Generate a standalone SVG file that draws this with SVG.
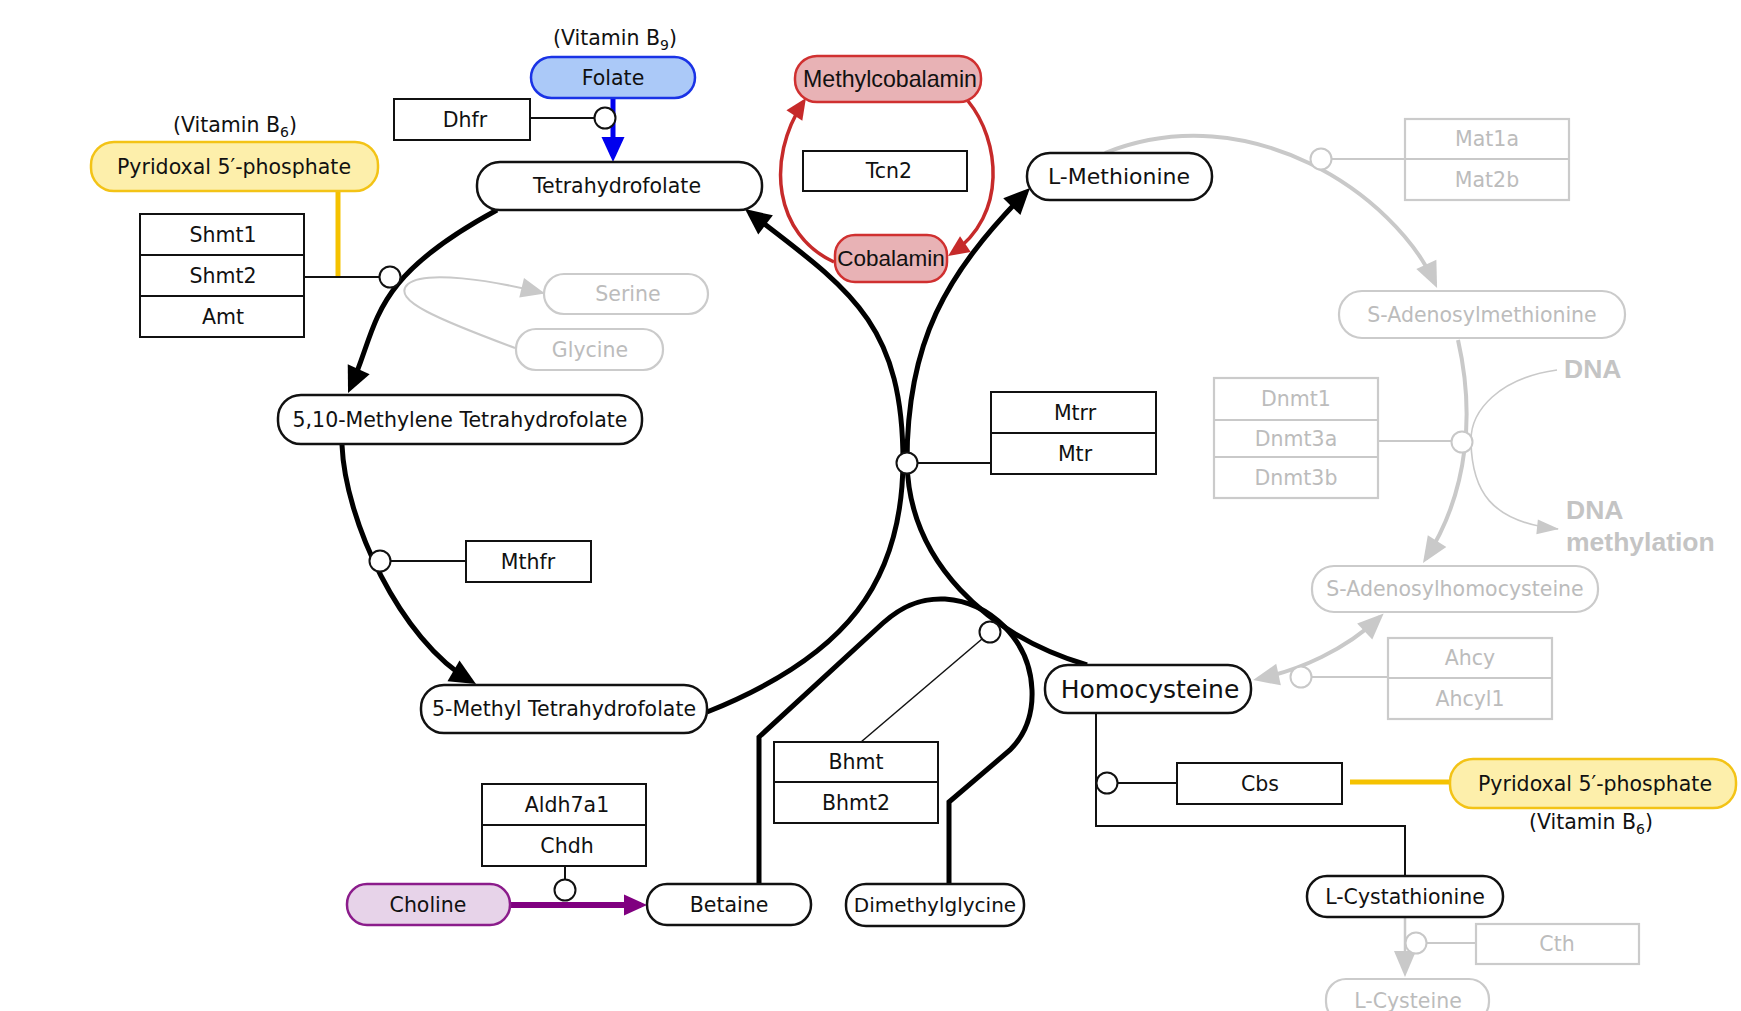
<svg xmlns="http://www.w3.org/2000/svg" width="1741" height="1011" viewBox="0 0 1741 1011">
<style>
.pill{fill:#fff;stroke:#111;stroke-width:2.5}
.box{fill:#fff;stroke:#111;stroke-width:2}
.gpill{fill:#fff;stroke:#cbcbcb;stroke-width:2.2}
.gbox{fill:#fff;stroke:#cbcbcb;stroke-width:2.2}
.t{font-family:"DejaVu Sans",Verdana,sans-serif;font-size:20.5px;fill:#111;text-anchor:middle;dominant-baseline:central}
.ta{font-family:"Liberation Sans",Arial,sans-serif;font-size:22.5px;fill:#111;text-anchor:middle;dominant-baseline:central}
.tv{font-family:"DejaVu Sans",Verdana,sans-serif;font-size:20.5px;fill:#111;text-anchor:middle}
.gt{fill:#bcbcbc}
.dna{font-family:"Liberation Sans",Arial,sans-serif;font-size:26.5px;font-weight:bold;fill:#c4c4c4}
.circ{fill:#fff;stroke:#111;stroke-width:2}
.gcirc{fill:#fff;stroke:#c8c8c8;stroke-width:2}
.arc{fill:none;stroke:#000;stroke-width:5}
.garc{fill:none;stroke:#c9c9c9;stroke-width:4}
.thin{fill:none;stroke:#111;stroke-width:2}
.gthin{fill:none;stroke:#c9c9c9;stroke-width:2}
.red{fill:none;stroke:#c62a2a;stroke-width:3.5}
</style>
<defs>
<marker id="ab" markerUnits="userSpaceOnUse" markerWidth="26" markerHeight="24" refX="20" refY="12" orient="auto" overflow="visible"><path d="M0,0 L26,12 L0,24 z" fill="#000"/></marker>
<marker id="abl" markerUnits="userSpaceOnUse" markerWidth="25" markerHeight="23" refX="19" refY="11.5" orient="auto" overflow="visible"><path d="M0,0 L25,11.5 L0,23 z" fill="#0000ee"/></marker>
<marker id="ar" markerUnits="userSpaceOnUse" markerWidth="21" markerHeight="19" refX="16" refY="9.5" orient="auto" overflow="visible"><path d="M0,0 L21,9.5 L0,19 z" fill="#c62a2a"/></marker>
<marker id="ap" markerUnits="userSpaceOnUse" markerWidth="23" markerHeight="21" refX="17" refY="10.5" orient="auto" overflow="visible"><path d="M0,0 L23,10.5 L0,21 z" fill="#800080"/></marker>
<marker id="ag" markerUnits="userSpaceOnUse" markerWidth="26" markerHeight="22" refX="21" refY="11" orient="auto-start-reverse" overflow="visible"><path d="M0,0 L26,11 L0,22 z" fill="#c9c9c9"/></marker>
<marker id="ags" markerUnits="userSpaceOnUse" markerWidth="24" markerHeight="20" refX="22" refY="10" orient="auto" overflow="visible"><path d="M0,0 L24,10 L0,20 z" fill="#c9c9c9"/></marker>
<marker id="agt" markerUnits="userSpaceOnUse" markerWidth="22" markerHeight="15" refX="21" refY="7.5" orient="auto" overflow="visible"><path d="M0,0 L22,7.5 L0,15 z" fill="#c9c9c9"/></marker>
</defs>

<g id="connectors">
  <!-- grey pathways -->
  <path class="garc" d="M1105,153 C1250,95 1395,195 1435,283.5" marker-end="url(#ag)"/>
  <path class="garc" d="M1458,340 C1474,410 1470,490 1425.7,558.8" marker-end="url(#ag)"/>
  <path class="garc" d="M1258,679 C1300,670 1345,650 1380,617" marker-start="url(#ag)" marker-end="url(#ag)"/>
  <path class="gthin" d="M515,348 C440,320 390,300 408,284 C425,270 490,280 543,293" marker-end="url(#ags)"/>
  <path class="gthin" style="stroke-width:1.6" d="M1557,370 C1500,378 1470,410 1471,442 C1472,490 1490,522 1558,529" marker-end="url(#agt)"/>
  <path class="gthin" style="stroke-width:2.5" d="M1405,917 V972" marker-end="url(#ag)"/>
  <line class="gthin" x1="1331.5" y1="159" x2="1405" y2="159"/>
  <line class="gthin" x1="1378" y1="441" x2="1452" y2="441"/>
  <line class="gthin" x1="1312" y1="677" x2="1388" y2="677"/>
  <line class="gthin" x1="1427" y1="943" x2="1476" y2="943"/>

  <!-- black main cycles -->
  <path class="arc" d="M497,210 C367.5,280 379.5,323 350.5,387.5" marker-end="url(#ab)"/>
  <path class="arc" d="M342,445 C345,520 400,640 470.8,681" marker-end="url(#ab)"/>
  <path class="arc" d="M707,712 C847,656 902,582 903,462 C903,322 849,289 749.7,212.7" marker-end="url(#ab)"/>
  <path class="arc" d="M1087,665 C987,635 909,562 907,462 C907,342 945,275 1025.8,192.3" marker-end="url(#ab)"/>
  <path class="arc" d="M759,885 V737 L883,623 C905,603 925,598 945,599 C990,602 1030,640 1032,690 C1033,715 1025,735 1010,750 L949,802 V885" stroke-linejoin="miter"/>

  <!-- red cobalamin cycle -->
  <path class="red" d="M834,262 C775,235 765,160 803.2,102.2" marker-end="url(#ar)"/>
  <path class="red" d="M968,101 C1000,140 1008,215 952.2,253.2" marker-end="url(#ar)"/>

  <!-- coloured -->
  <line x1="613" y1="98" x2="613" y2="156" stroke="#0000ee" stroke-width="5" marker-end="url(#abl)"/>
  <line x1="510" y1="905" x2="641" y2="905" stroke="#800080" stroke-width="6" marker-end="url(#ap)"/>
  <line x1="338" y1="191" x2="338" y2="277" stroke="#f5c200" stroke-width="5"/>
  <line x1="1350" y1="782" x2="1450" y2="782" stroke="#f5c200" stroke-width="5"/>

  <!-- enzyme links -->
  <line class="thin" x1="530" y1="118" x2="594.5" y2="118"/>
  <line class="thin" x1="304" y1="277" x2="379.5" y2="277"/>
  <line class="thin" x1="390.5" y1="561" x2="466" y2="561"/>
  <line class="thin" x1="917.5" y1="463" x2="991" y2="463"/>
  <line class="thin" style="stroke-width:1.5" x1="861" y1="742" x2="982" y2="639"/>
  <line class="thin" x1="565" y1="866" x2="565" y2="879.5"/>
  <line class="thin" x1="1117.5" y1="783" x2="1177" y2="783"/>
  <path class="thin" d="M1096,713 V826 H1405 V876"/>
</g>

<g id="n-vitb9"><text class="tv" x="615" y="45">(Vitamin B<tspan style="font-size:14px" dy="5">9</tspan><tspan dy="-5">)</tspan></text></g>
<g id="n-folate"><rect x="531" y="57" width="164" height="41" rx="20.5" fill="#abc9f8" stroke="#1a33e6" stroke-width="2.5"/><text class="t" x="613" y="77.5">Folate</text></g>
<g id="n-dhfr"><rect class="box" x="394" y="99" width="136" height="41"/><text class="t" x="465" y="119.5">Dhfr</text></g>
<g id="n-thf"><rect class="pill" x="477" y="162" width="285" height="48" rx="23"/><text class="t" x="617" y="186">Tetrahydrofolate</text></g>
<g id="n-vitb6a"><text class="tv" x="235" y="132">(Vitamin B<tspan style="font-size:14px" dy="5">6</tspan><tspan dy="-5">)</tspan></text></g>
<g id="n-plp1"><rect x="91" y="142" width="287" height="49" rx="23" fill="#fdefab" stroke="#f3c316" stroke-width="2.5"/><text class="t" x="234" y="166.5">Pyridoxal 5′-phosphate</text></g>
<g id="n-shmt"><rect class="box" x="140" y="214" width="164" height="123"/><line class="thin" x1="140" y1="255" x2="304" y2="255"/><line class="thin" x1="140" y1="296" x2="304" y2="296"/>
<text class="t" x="223" y="234.5">Shmt1</text><text class="t" x="223" y="275.5">Shmt2</text><text class="t" x="223" y="316.5">Amt</text></g>
<g id="n-serine"><rect class="gpill" x="544" y="274" width="164" height="40" rx="20"/><text class="t gt" x="628" y="294">Serine</text></g>
<g id="n-glycine"><rect class="gpill" x="516" y="329" width="147" height="41" rx="20"/><text class="t gt" x="590" y="349.5">Glycine</text></g>
<g id="n-mthf510"><rect class="pill" x="278" y="395" width="364" height="49" rx="23"/><text class="t" x="460" y="419.5">5,10-Methylene Tetrahydrofolate</text></g>
<g id="n-mthfr"><rect class="box" x="466" y="541" width="125" height="41"/><text class="t" x="528" y="561.5">Mthfr</text></g>
<g id="n-mthf5"><rect class="pill" x="421" y="685" width="286" height="48" rx="23"/><text class="t" x="564" y="709">5-Methyl Tetrahydrofolate</text></g>
<g id="n-mecbl"><rect x="795" y="56" width="186" height="46" rx="22" fill="#e8b2b5" stroke="#d03030" stroke-width="2.5"/><text class="ta" x="890" y="79" style="font-size:23.2px">Methylcobalamin</text></g>
<g id="n-tcn2"><rect class="box" x="803" y="151" width="164" height="40"/><text class="t" x="889" y="171">Tcn2</text></g>
<g id="n-cbl"><rect x="835" y="235" width="112" height="47" rx="20" fill="#e8b2b5" stroke="#d03030" stroke-width="2.5"/><text class="ta" x="891" y="258.5">Cobalamin</text></g>
<g id="n-mtr"><rect class="box" x="991" y="392" width="165" height="82"/><line class="thin" x1="991" y1="433" x2="1156" y2="433"/><text class="t" x="1075" y="412.5">Mtrr</text><text class="t" x="1075" y="453.5">Mtr</text></g>
<g id="n-lmet"><rect class="pill" x="1027" y="153" width="185" height="47" rx="23"/><text class="t" x="1119" y="176.5" style="font-size:22px">L-Methionine</text></g>
<g id="n-mat"><rect class="gbox" x="1405" y="119" width="164" height="81"/><line class="gthin" x1="1405" y1="159" x2="1569" y2="159"/><text class="t gt" x="1487" y="139">Mat1a</text><text class="t gt" x="1487" y="179.5">Mat2b</text></g>
<g id="n-sam"><rect class="gpill" x="1339" y="291" width="286" height="47" rx="23"/><text class="t gt" x="1482" y="314.5">S-Adenosylmethionine</text></g>
<g id="n-dnmt"><rect class="gbox" x="1214" y="378" width="164" height="120"/><line class="gthin" x1="1214" y1="420" x2="1378" y2="420"/><line class="gthin" x1="1214" y1="457" x2="1378" y2="457"/>
<text class="t gt" x="1296" y="399">Dnmt1</text><text class="t gt" x="1296" y="438.5">Dnmt3a</text><text class="t gt" x="1296" y="477.5">Dnmt3b</text></g>
<g id="n-dna"><text class="dna" x="1564" y="378">DNA</text></g>
<g id="n-dnameth"><text class="dna" x="1566" y="519">DNA</text><text class="dna" x="1566" y="551">methylation</text></g>
<g id="n-sah"><rect class="gpill" x="1312" y="566" width="286" height="46" rx="22"/><text class="t gt" x="1455" y="589">S-Adenosylhomocysteine</text></g>
<g id="n-ahcy"><rect class="gbox" x="1388" y="638" width="164" height="81"/><line class="gthin" x1="1388" y1="678" x2="1552" y2="678"/><text class="t gt" x="1470" y="658">Ahcy</text><text class="t gt" x="1470" y="698.5">Ahcyl1</text></g>
<g id="n-hcy"><rect class="pill" x="1045" y="665" width="206" height="48" rx="23"/><text class="t" x="1150" y="689" style="font-size:25px">Homocysteine</text></g>
<g id="n-cbs"><rect class="box" x="1177" y="763" width="165" height="41"/><text class="t" x="1260" y="783.5">Cbs</text></g>
<g id="n-plp2"><rect x="1450" y="759" width="286" height="49" rx="23" fill="#fdefab" stroke="#f3c316" stroke-width="2.5"/><text class="t" x="1595" y="783.5">Pyridoxal 5′-phosphate</text></g>
<g id="n-vitb6b"><text class="tv" x="1591" y="829">(Vitamin B<tspan style="font-size:14px" dy="5">6</tspan><tspan dy="-5">)</tspan></text></g>
<g id="n-lcysta"><rect class="pill" x="1307" y="876" width="196" height="41" rx="20"/><text class="t" x="1405" y="896.5">L-Cystathionine</text></g>
<g id="n-cth"><rect class="gbox" x="1476" y="924" width="163" height="40"/><text class="t gt" x="1557" y="944">Cth</text></g>
<g id="n-lcys"><rect class="gpill" x="1326" y="979" width="163" height="43" rx="20"/><text class="t gt" x="1408" y="1000.5">L-Cysteine</text></g>
<g id="n-bhmt"><rect class="box" x="774" y="742" width="164" height="81"/><line class="thin" x1="774" y1="782" x2="938" y2="782"/><text class="t" x="856" y="762">Bhmt</text><text class="t" x="856" y="802.5">Bhmt2</text></g>
<g id="n-aldh"><rect class="box" x="482" y="784" width="164" height="82"/><line class="thin" x1="482" y1="825" x2="646" y2="825"/><text class="t" x="567" y="804.5">Aldh7a1</text><text class="t" x="567" y="845.5">Chdh</text></g>
<g id="n-choline"><rect x="347" y="884" width="163" height="41" rx="20" fill="#e7d3e9" stroke="#8b1c8b" stroke-width="2.5"/><text class="t" x="428" y="904.5">Choline</text></g>
<g id="n-betaine"><rect class="pill" x="647" y="884" width="164" height="41" rx="20"/><text class="t" x="729" y="904.5">Betaine</text></g>
<g id="n-dmg"><rect class="pill" x="846" y="884" width="178" height="42" rx="20"/><text class="t" x="935" y="905" style="font-size:20px">Dimethylglycine</text></g>

<g id="mod-circles">
  <circle class="circ" cx="605" cy="118" r="10.5"/>
  <circle class="circ" cx="390" cy="277" r="10.5"/>
  <circle class="circ" cx="380" cy="561" r="10.5"/>
  <circle class="circ" cx="907" cy="463" r="10.5"/>
  <circle class="circ" cx="990" cy="632" r="10.5"/>
  <circle class="circ" cx="565" cy="890" r="10.5"/>
  <circle class="circ" cx="1107" cy="783" r="10.5"/>
  <circle class="gcirc" cx="1321" cy="159" r="10.5"/>
  <circle class="gcirc" cx="1462" cy="442" r="10.5"/>
  <circle class="gcirc" cx="1301" cy="677" r="10.5"/>
  <circle class="gcirc" cx="1416" cy="943" r="10.5"/>
</g>
</svg>
